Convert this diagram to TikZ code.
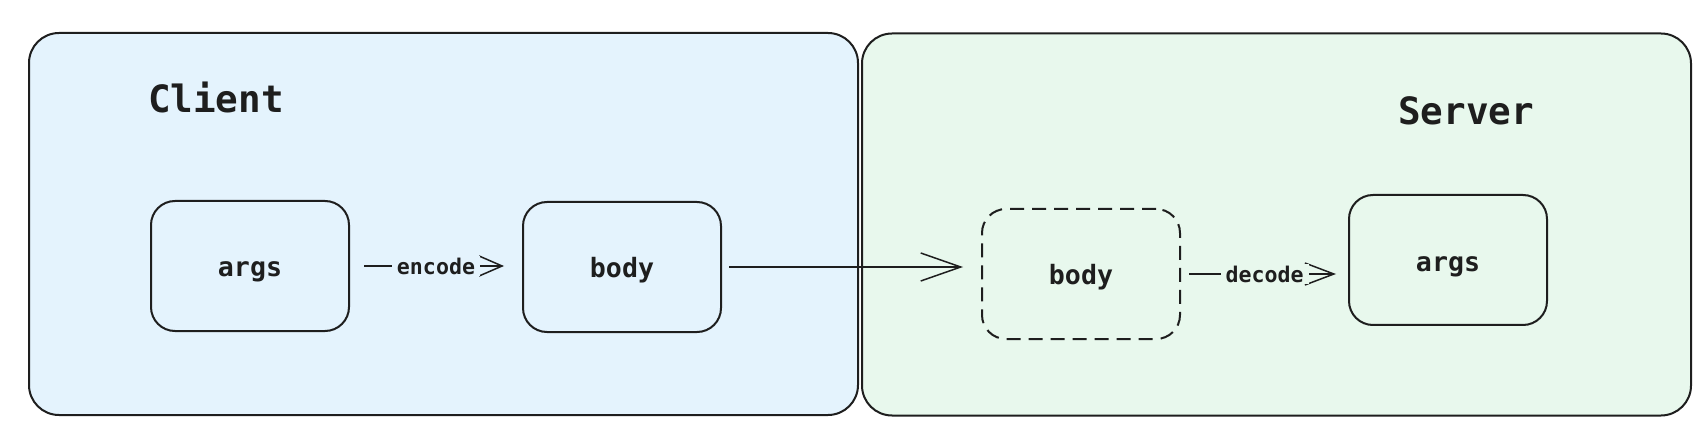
\documentclass[tikz,border=0pt]{standalone}
\usepackage{fontspec}
\setmonofont{DejaVu Sans Mono}
\usetikzlibrary{arrows.meta}
\definecolor{ink}{HTML}{1E1E1E}
\definecolor{clientfill}{RGB}{228,243,253}
\definecolor{serverfill}{RGB}{232,248,237}

\begin{document}
\begin{tikzpicture}[x=0.5pt,y=-0.5pt,
  every node/.style={text=ink,font=\ttfamily\bfseries},
  region/.style={draw=ink,line width=1pt,rounded corners=15pt,minimum width=414.5pt,minimum height=191pt},
  part/.style={draw=ink,line width=1pt,rounded corners=12pt,minimum width=99pt,minimum height=65pt,
    text height=11pt,text depth=0pt,font=\ttfamily\bfseries\fontsize{13.3}{16}\selectfont},
  title/.style={font=\ttfamily\bfseries\fontsize{18.8}{22}\selectfont},
  lbl/.style={midway,inner xsep=2.5pt,inner ysep=1pt,font=\ttfamily\bfseries\fontsize{10.8}{13}\selectfont}]
\useasboundingbox (0,0) rectangle (1708,438);

% the two sides
\node[region,fill=clientfill] (client) at (443.5,224) {};
\node[region,fill=serverfill] (server) at (1276.5,224.5) {};
\node[title,anchor=west] (clientname) at (141,97) {Client};
\node[title] (servername) at (1466,111) {Server};

% client parts
\node[part] (args1) at (250,266) {args};
\node[part] (body1) at (622,267) {body};

% server parts
\node[part,dash pattern=on 7pt off 4pt] (body2) at (1081,274) {body};
\node[part] (args2) at (1448,260) {args};

\draw[draw=ink,line width=0.75pt,-{Straight Barb[length=11.5pt,width=10pt]},shorten <=7pt,shorten >=9pt]
  (args1.east) -- (args1.east -| body1.west) node[lbl,fill=clientfill] {encode};
\draw[draw=ink,line width=0.75pt,-{Straight Barb[length=20pt,width=14pt]},shorten <=3.5pt,shorten >=9pt]
  (body1.east) -- (body1.east -| body2.west);
\draw[draw=ink,line width=0.75pt,-{Straight Barb[length=14.5pt,width=11pt]},shorten <=4pt,shorten >=6pt]
  (body2.east) -- (body2.east -| args2.west) node[lbl,fill=serverfill] {decode};
\end{tikzpicture}
\end{document}
